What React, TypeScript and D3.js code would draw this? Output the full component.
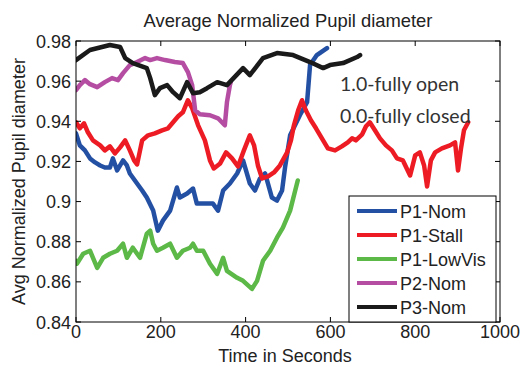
import React from "react";
import * as d3 from "d3";

// Time (s) and average normalized pupil diameter for each run
const p1NomTime = [0, 9, 21, 33, 45, 57, 68, 80, 87, 97, 111, 120, 127, 144, 156, 167, 182, 193, 205, 222, 238, 245, 262, 276, 285, 300, 323, 335, 347, 363, 380, 394, 410, 422, 434, 446, 462, 474, 486, 493, 505, 528, 545, 552, 568, 592];
const p1NomValue = [0.934, 0.928, 0.9255, 0.9215, 0.9195, 0.918, 0.917, 0.917, 0.9215, 0.9155, 0.9205, 0.918, 0.914, 0.909, 0.9055, 0.902, 0.8955, 0.8855, 0.8905, 0.8955, 0.907, 0.902, 0.904, 0.9065, 0.899, 0.899, 0.899, 0.8955, 0.9055, 0.909, 0.914, 0.9205, 0.909, 0.9055, 0.9115, 0.914, 0.902, 0.9005, 0.9055, 0.917, 0.933, 0.943, 0.9495, 0.968, 0.973, 0.9765];

const p1StallTime = [0, 9, 19, 28, 40, 57, 68, 80, 92, 104, 116, 127, 137, 144, 156, 170, 186, 203, 217, 229, 241, 252, 264, 274, 288, 304, 316, 325, 340, 354, 368, 382, 396, 410, 420, 429, 439, 453, 467, 481, 498, 507, 514, 524, 533, 542, 554, 566, 580, 594, 611, 627, 641, 651, 660, 675, 684, 693, 705, 717, 731, 745, 757, 771, 788, 800, 811, 821, 828, 837, 847, 863, 882, 894, 901, 908, 915, 925];
const p1StallValue = [0.9395, 0.9365, 0.939, 0.9345, 0.9305, 0.928, 0.9255, 0.9275, 0.924, 0.927, 0.9305, 0.9255, 0.9205, 0.9185, 0.9305, 0.933, 0.934, 0.9355, 0.9365, 0.9395, 0.9425, 0.9445, 0.9505, 0.9465, 0.938, 0.9305, 0.9205, 0.9165, 0.919, 0.9245, 0.9215, 0.9175, 0.9255, 0.933, 0.928, 0.918, 0.9115, 0.9125, 0.9145, 0.918, 0.9245, 0.9305, 0.938, 0.9455, 0.9505, 0.9455, 0.9405, 0.9365, 0.9315, 0.9265, 0.9255, 0.9275, 0.9295, 0.9315, 0.9305, 0.9335, 0.9375, 0.9395, 0.9355, 0.9315, 0.928, 0.9255, 0.9215, 0.9205, 0.913, 0.923, 0.9245, 0.918, 0.9075, 0.9205, 0.9245, 0.9265, 0.928, 0.9295, 0.9155, 0.9265, 0.9355, 0.9395];

const p1LowVisTime = [0, 2, 17, 33, 50, 64, 80, 97, 111, 120, 134, 151, 167, 175, 182, 191, 205, 222, 238, 252, 269, 276, 285, 300, 316, 333, 347, 356, 380, 394, 415, 427, 441, 458, 474, 488, 505, 517, 523];
const p1LowVisValue = [0.8705, 0.869, 0.874, 0.8755, 0.867, 0.872, 0.874, 0.8755, 0.879, 0.872, 0.877, 0.872, 0.884, 0.8855, 0.879, 0.8755, 0.877, 0.879, 0.872, 0.8755, 0.877, 0.879, 0.8755, 0.8755, 0.869, 0.864, 0.872, 0.8655, 0.862, 0.8605, 0.8565, 0.8605, 0.8705, 0.8755, 0.882, 0.887, 0.8955, 0.9055, 0.9105];

const p2NomTime = [0, 9, 21, 33, 50, 68, 85, 99, 111, 127, 144, 163, 175, 191, 210, 233, 252, 264, 274, 281, 292, 316, 335, 351, 356, 363, 365];
const p2NomValue = [0.9555, 0.958, 0.9605, 0.9585, 0.957, 0.9595, 0.9615, 0.9605, 0.964, 0.968, 0.9695, 0.9715, 0.9705, 0.9715, 0.9705, 0.9695, 0.969, 0.9645, 0.958, 0.9455, 0.9435, 0.943, 0.9415, 0.938, 0.9495, 0.958, 0.9595];

const p3NomTime = [0, 33, 80, 104, 116, 134, 167, 175, 186, 198, 215, 229, 245, 262, 276, 292, 309, 333, 356, 394, 410, 441, 474, 512, 552, 583, 599, 630, 663, 670];
const p3NomValue = [0.9705, 0.9755, 0.978, 0.977, 0.9715, 0.969, 0.9665, 0.9615, 0.953, 0.9565, 0.958, 0.9545, 0.9515, 0.9595, 0.954, 0.9545, 0.9565, 0.9595, 0.958, 0.9665, 0.963, 0.9715, 0.974, 0.973, 0.9695, 0.9665, 0.968, 0.969, 0.972, 0.973];

const seriesNames = ["P1-Nom", "P1-Stall", "P1-LowVis", "P2-Nom", "P3-Nom"];
const seriesColors = ["#2450a4", "#ed1c24", "#5cb847", "#b54ea3", "#1a1a1a"];
const seriesTimes = [p1NomTime, p1StallTime, p1LowVisTime, p2NomTime, p3NomTime];
const seriesValues = [p1NomValue, p1StallValue, p1LowVisValue, p2NomValue, p3NomValue];

const xTicks = [0, 200, 400, 600, 800, 1000];
const yTicks = [0.84, 0.86, 0.88, 0.9, 0.92, 0.94, 0.96, 0.98];
const yTickLabels = ["0.84", "0.86", "0.88", "0.9", "0.92", "0.94", "0.96", "0.98"];

const titleText = "Average Normalized Pupil diameter";
const xLabel = "Time in Seconds";
const yLabel = "Avg Normalized Pupil diameter";
const notes = ["1.0-fully open", "0.0-fully closed"];

const W = 521;
const H = 367;
const m = { left: 76, right: 500, top: 41, bottom: 322 };
const font = "'Liberation Sans', Arial, sans-serif";
const ink = "#222";

export default function App() {
  const x = d3.scaleLinear().domain([0, 1000]).range([m.left, m.right]);
  const y = d3.scaleLinear().domain([0.84, 0.98]).range([m.bottom, m.top]);
  const line = d3
    .line<[number, number]>()
    .x((d) => x(d[0]))
    .y((d) => y(d[1]));

  const tickLen = 5;
  const legend = { x0: 349, y0: 196, x1: 496, y1: 322, row0: 211, step: 24 };

  return (
    <svg
      width={W}
      height={H}
      style={{ position: "absolute", left: 0, top: 0, background: "#fff" }}
      fontFamily={font}
    >
      <rect x={0} y={0} width={W} height={H} fill="#fff" />
      <defs>
        <clipPath id="plot-area">
          <rect x={m.left} y={m.top} width={m.right - m.left} height={m.bottom - m.top} />
        </clipPath>
      </defs>

      {/* data lines */}
      <g clipPath="url(#plot-area)">
        {seriesNames.map((name, i) => (
          <path
            key={name}
            d={line(seriesTimes[i].map((t, k) => [t, seriesValues[i][k]] as [number, number])) || ""}
            fill="none"
            stroke={seriesColors[i]}
            strokeWidth={4.5}
            strokeLinejoin="round"
            strokeLinecap="round"
          />
        ))}
      </g>

      {/* axes box and inward ticks */}
      <rect
        x={m.left}
        y={m.top}
        width={m.right - m.left}
        height={m.bottom - m.top}
        fill="none"
        stroke="#000"
        strokeWidth={1}
      />
      {xTicks.map((t) => (
        <g key={"xt" + t}>
          <line x1={x(t)} x2={x(t)} y1={m.bottom} y2={m.bottom - tickLen} stroke="#000" />
          <line x1={x(t)} x2={x(t)} y1={m.top} y2={m.top + tickLen} stroke="#000" />
          <text x={x(t)} y={338} textAnchor="middle" fontSize={18} fill={ink}>
            {t}
          </text>
        </g>
      ))}
      {yTicks.map((t, i) => (
        <g key={"yt" + t}>
          <line x1={m.left} x2={m.left + tickLen} y1={y(t)} y2={y(t)} stroke="#000" />
          <line x1={m.right} x2={m.right - tickLen} y1={y(t)} y2={y(t)} stroke="#000" />
          <text x={71} y={y(t) + 6.5} textAnchor="end" fontSize={18} fill={ink}>
            {yTickLabels[i]}
          </text>
        </g>
      ))}

      {/* annotations */}
      {notes.map((n, i) => (
        <text key={n} x={340} y={91 + i * 32} fontSize={19.5} fill="#333" fontFamily="Lato, 'Open Sans', sans-serif">
          {n}
        </text>
      ))}

      {/* legend */}
      <rect
        x={legend.x0}
        y={legend.y0}
        width={legend.x1 - legend.x0}
        height={legend.y1 - legend.y0}
        fill="#fff"
        stroke="#000"
        strokeWidth={1}
      />
      {seriesNames.map((name, i) => {
        const cy = legend.row0 + i * legend.step;
        return (
          <g key={"lg" + name}>
            <line x1={357} x2={397} y1={cy} y2={cy} stroke={seriesColors[i]} strokeWidth={4} />
            <text x={400} y={cy + 6.5} fontSize={18} fill={ink}>
              {name}
            </text>
          </g>
        );
      })}

      {/* titles */}
      <text x={288} y={27} textAnchor="middle" fontSize={18.4} fill={ink}>
        {titleText}
      </text>
      <text x={285} y={362} textAnchor="middle" fontSize={18} fill={ink}>
        {xLabel}
      </text>
      <text
        transform={`translate(25, ${(m.top + m.bottom) / 2}) rotate(-90)`}
        textAnchor="middle"
        fontSize={18}
        fill={ink}
      >
        {yLabel}
      </text>
    </svg>
  );
}
